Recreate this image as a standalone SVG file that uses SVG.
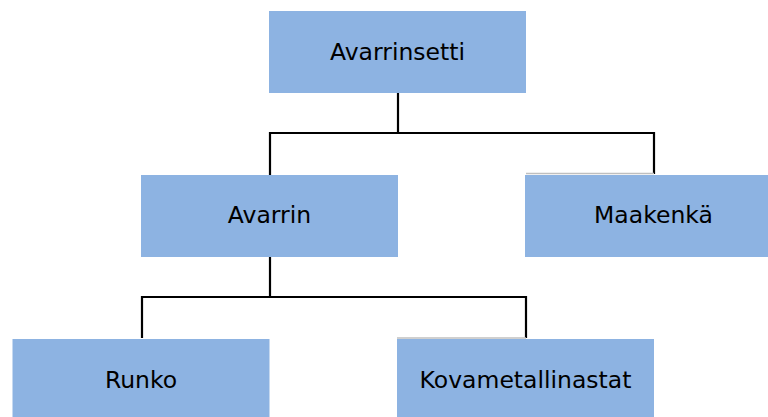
<svg xmlns="http://www.w3.org/2000/svg" width="768" height="417" viewBox="0 0 768 417">
  <style>
    .box { fill: #8db3e2; }
    .lbl { font-family: "DejaVu Sans", Verdana, sans-serif; font-size: 23.5px; fill: #000; text-anchor: middle; }
    .wire { fill: none; stroke: #000; stroke-width: 2.2; }
    .edge { stroke: #bfbfbf; stroke-width: 1.5; }
  </style>
  <rect width="768" height="417" fill="#fff"/>

  <g id="connectors">
    <polyline class="wire" points="398,93 398,133"/>
    <polyline class="wire" points="270,175 270,133 654,133 654,174"/>
    <polyline class="wire" points="270,257 270,297"/>
    <polyline class="wire" points="142,338 142,297 526,297 526,338"/>
  </g>

  <g id="avarrinsetti">
    <rect class="box" x="269" y="11" width="257" height="82"/>
    <text class="lbl" x="397.5" y="60">Avarrinsetti</text>
  </g>

  <g id="avarrin">
    <rect class="box" x="141" y="175" width="257" height="82"/>
    <text class="lbl" x="269.5" y="223">Avarrin</text>
  </g>

  <g id="maakenka">
    <line class="edge" x1="526" y1="173.5" x2="654" y2="173.5"/>
    <rect class="box" x="525" y="175" width="257" height="82"/>
    <text class="lbl" x="653.5" y="223">Maakenkä</text>
  </g>

  <g id="runko">
    <rect class="box" x="12.5" y="339" width="257" height="82"/>
    <text class="lbl" x="141" y="387.5">Runko</text>
  </g>

  <g id="kovametallinastat">
    <line class="edge" x1="397" y1="338" x2="526" y2="338"/>
    <rect class="box" x="397" y="339" width="257" height="82"/>
    <text class="lbl" x="525.5" y="387.5">Kovametallinastat</text>
  </g>
</svg>
